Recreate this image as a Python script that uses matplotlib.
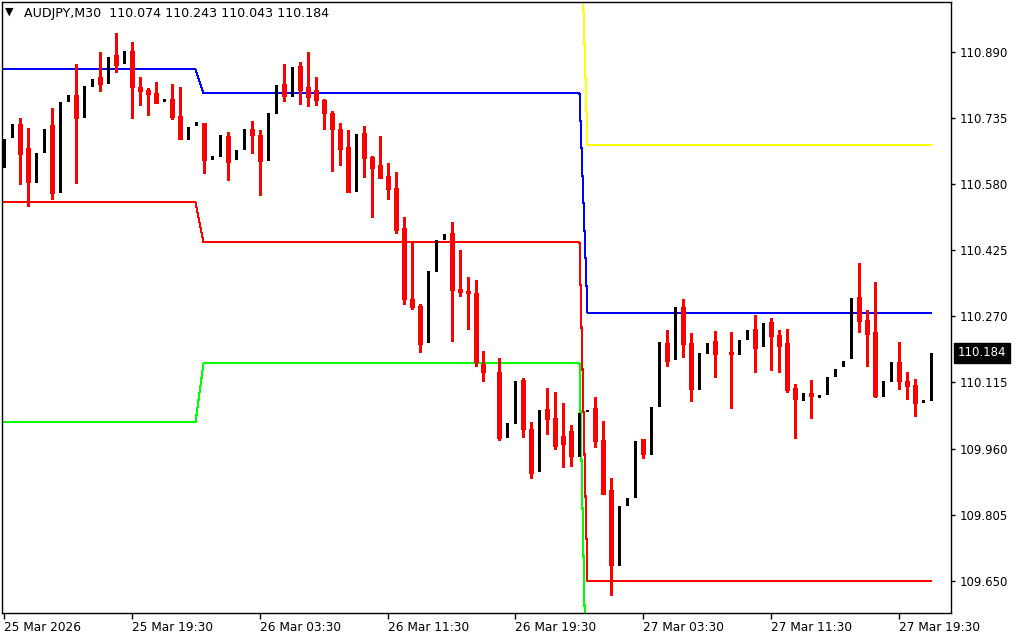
import matplotlib
matplotlib.use("Agg")
import matplotlib.pyplot as plt
import matplotlib.transforms as mtransforms
import numpy as np
import pandas as pd

symbol = "AUDJPY,M30"
first_bar = "2026-03-25 11:30"

opens = [
    110.620, 110.690, 110.720, 110.664, 110.584, 110.655, 110.718, 110.561, 110.774, 110.788,
    110.737, 110.809, 110.830, 110.816, 110.882, 110.863, 110.891, 110.807, 110.800, 110.793,
    110.774, 110.779, 110.739, 110.685, 110.718, 110.723, 110.638, 110.645, 110.692, 110.638,
    110.662, 110.709, 110.694, 110.636, 110.746, 110.814, 110.786, 110.856, 110.807, 110.800,
    110.776, 110.746, 110.709, 110.666, 110.563, 110.699, 110.643, 110.624, 110.598, 110.570,
    110.477, 110.310, 110.294, 110.210, 110.376, 110.451, 110.465, 110.334, 110.329, 110.324,
    110.158, 110.139, 110.139, 109.987, 110.020, 110.121, 110.006, 109.908, 110.053, 110.032,
    109.990, 110.001, 109.943, 110.048, 110.055, 109.980, 109.863, 109.687, 109.828, 109.847,
    109.983, 109.947, 110.060, 110.207, 110.170, 110.292, 110.207, 110.100, 110.184, 110.212,
    110.182, 110.186, 110.182, 110.217, 110.240, 110.200, 110.256, 110.226, 110.207, 110.102,
    110.074, 110.090, 110.081, 110.088, 110.130, 110.153, 110.172, 110.315, 110.261, 110.233,
    110.083, 110.118, 110.163, 110.118, 110.109, 110.069, 110.074,
]
highs = [
    110.685, 110.720, 110.734, 110.711, 110.652, 110.709, 110.758, 110.772, 110.788, 110.861,
    110.809, 110.826, 110.889, 110.877, 110.933, 110.891, 110.912, 110.830, 110.805, 110.819,
    110.779, 110.814, 110.807, 110.713, 110.725, 110.723, 110.645, 110.694, 110.702, 110.659,
    110.709, 110.727, 110.706, 110.746, 110.812, 110.861, 110.854, 110.865, 110.889, 110.830,
    110.779, 110.751, 110.723, 110.706, 110.697, 110.716, 110.645, 110.692, 110.629, 110.608,
    110.502, 110.444, 110.299, 110.376, 110.449, 110.463, 110.491, 110.425, 110.362, 110.355,
    110.189, 110.150, 110.172, 110.020, 110.118, 110.125, 110.022, 110.050, 110.102, 110.093,
    110.067, 110.015, 110.043, 110.050, 110.081, 110.025, 109.891, 109.826, 109.844, 109.978,
    109.983, 110.057, 110.210, 110.238, 110.292, 110.310, 110.231, 110.184, 110.207, 110.235,
    110.190, 110.233, 110.214, 110.238, 110.273, 110.254, 110.266, 110.238, 110.240, 110.111,
    110.090, 110.121, 110.086, 110.128, 110.146, 110.165, 110.313, 110.395, 110.285, 110.350,
    110.118, 110.163, 110.210, 110.139, 110.123, 110.074, 110.243,
]
lows = [
    110.620, 110.690, 110.580, 110.528, 110.584, 110.655, 110.545, 110.561, 110.774, 110.582,
    110.737, 110.809, 110.797, 110.816, 110.842, 110.863, 110.734, 110.765, 110.741, 110.769,
    110.774, 110.732, 110.685, 110.685, 110.718, 110.605, 110.638, 110.645, 110.589, 110.638,
    110.662, 110.652, 110.554, 110.636, 110.746, 110.774, 110.786, 110.767, 110.762, 110.765,
    110.709, 110.610, 110.624, 110.561, 110.563, 110.596, 110.502, 110.594, 110.545, 110.465,
    110.299, 110.287, 110.186, 110.210, 110.376, 110.451, 110.212, 110.317, 110.240, 110.153,
    110.118, 110.130, 109.980, 109.987, 110.020, 109.987, 109.891, 109.908, 109.994, 109.959,
    109.917, 109.919, 109.943, 110.048, 109.964, 109.854, 109.617, 109.687, 109.828, 109.847,
    109.938, 109.947, 110.060, 110.153, 110.170, 110.175, 110.071, 110.100, 110.184, 110.128,
    110.175, 110.055, 110.182, 110.217, 110.139, 110.200, 110.144, 110.139, 110.093, 109.985,
    110.074, 110.032, 110.081, 110.088, 110.130, 110.153, 110.172, 110.233, 110.153, 110.081,
    110.083, 110.118, 110.100, 110.076, 110.036, 110.069, 110.043,
]
closes = [
    110.685, 110.720, 110.650, 110.584, 110.652, 110.709, 110.559, 110.772, 110.788, 110.734,
    110.809, 110.826, 110.814, 110.877, 110.858, 110.891, 110.807, 110.797, 110.790, 110.769,
    110.779, 110.737, 110.685, 110.713, 110.725, 110.636, 110.645, 110.694, 110.631, 110.659,
    110.709, 110.694, 110.634, 110.746, 110.812, 110.786, 110.854, 110.800, 110.783, 110.776,
    110.746, 110.709, 110.662, 110.561, 110.697, 110.641, 110.617, 110.594, 110.568, 110.472,
    110.310, 110.292, 110.205, 110.376, 110.449, 110.463, 110.331, 110.327, 110.324, 110.163,
    110.139, 110.139, 109.985, 110.020, 110.118, 110.006, 109.903, 110.050, 110.029, 109.966,
    109.971, 109.943, 110.043, 110.050, 109.978, 109.854, 109.687, 109.826, 109.844, 109.978,
    109.947, 110.057, 110.210, 110.165, 110.292, 110.205, 110.100, 110.184, 110.207, 110.182,
    110.182, 110.182, 110.214, 110.238, 110.196, 110.254, 110.224, 110.200, 110.097, 110.076,
    110.090, 110.083, 110.086, 110.128, 110.146, 110.165, 110.313, 110.259, 110.228, 110.083,
    110.118, 110.163, 110.118, 110.107, 110.067, 110.074, 110.184,
]

# daily levels (bars per day: 25 Mar part, 26 Mar, 27 Mar part)
day_bars = [25, 48, 44]
level_yellow = [111.300, 111.300, 110.671]
level_blue = [110.848, 110.792, 110.278]
level_red = [110.537, 110.443, 109.650]
level_green = [110.022, 110.160, 109.254]

price_ticks = [109.650, 109.805, 109.960, 110.115, 110.270, 110.425, 110.580, 110.735, 110.890]


def main():
    o = np.array(opens)
    h = np.array(highs)
    l = np.array(lows)
    c = np.array(closes)
    n = len(o)
    idx = np.arange(n)
    times = pd.date_range(first_bar, periods=n, freq="30min")

    fig = plt.figure(figsize=(10.24, 6.4), dpi=100)
    ax = fig.add_axes([2 / 1024, 27 / 640, 949 / 1024, 611 / 640])
    ax.set_xlim(-0.19, 118.44)
    ax.set_ylim(109.575, 111.006)

    # daily levels
    for lv, col in [(level_yellow, "#ffff00"), (level_blue, "#0000ff"),
                    (level_red, "#ff0000"), (level_green, "#00ff00")]:
        ax.plot(idx, np.repeat(lv, day_bars), color=col, lw=0.75, zorder=1, antialiased=False)

    bear = c < o
    bull = c > o
    px = (111.006 - 109.575) / 611

    # candles: wick 1px, bear body 5px, bull body 3px (bull outline is white)
    ax.vlines(idx[bear], l[bear], h[bear], color="#ff0000", lw=0.75, zorder=2,
              antialiased=False, capstyle="butt")
    ax.vlines(idx[bear], c[bear], np.maximum(o[bear], c[bear] + px), color="#ff0000",
              lw=3.6, zorder=3, antialiased=False, capstyle="butt")
    ax.vlines(idx[bull], o[bull], np.maximum(c[bull], o[bull] + px), color="black",
              lw=2.16, zorder=3, antialiased=False, capstyle="butt")

    for s in ax.spines.values():
        s.set_linewidth(1.0)
        s.set_color("black")
    ax.yaxis.tick_right()
    ax.set_yticks(price_ticks)
    ax.set_yticklabels([f"{p:.3f}" for p in price_ticks])
    ax.tick_params(axis="y", direction="out", length=3, width=1, pad=3, labelsize=8.5)

    xt = idx[::16]
    labels = [times[0].strftime("%d %b %Y")] + [t.strftime("%d %b %H:%M") for t in times[16::16]]
    ax.set_xticks(xt)
    ax.set_xticklabels(labels, ha="left")
    ax.tick_params(axis="x", direction="out", length=4, width=1, pad=2, labelsize=8.7)

    # last price marker
    trans = mtransforms.blended_transform_factory(ax.transAxes, ax.transData)
    ax.text(1.0 + 7 / 949, c[-1], f"{c[-1]:.3f}", transform=trans, color="white",
            fontsize=8.5, va="center", ha="left",
            bbox=dict(boxstyle="square,pad=0.32", fc="black", ec="black"))

    # header
    fig.text(5 / 1024, 1 - 12 / 640, "\u25bc", fontsize=8, va="center", ha="left")
    fig.text(24 / 1024, 1 - 13 / 640,
             f"{symbol}  {o[-1]:.3f} {h[-1]:.3f} {l[-1]:.3f} {c[-1]:.3f}",
             fontsize=9.1, va="center", ha="left")

    fig.savefig("out.png", dpi=100, facecolor="white")


if __name__ == '__main__':
    main()
